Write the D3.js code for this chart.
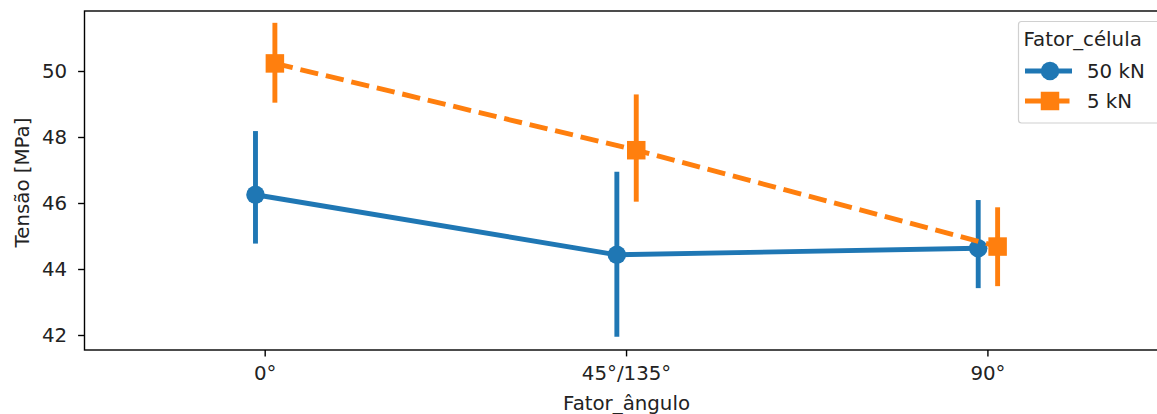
<!DOCTYPE html>
<html>
<head>
<meta charset="utf-8">
<script src="https://cdn.jsdelivr.net/npm/d3@7"></script>
<style>
  html, body { margin: 0; padding: 0; background: #fff; overflow: hidden; }
  svg { display: block; font-family: "DejaVu Sans", sans-serif; }
</style>
</head>
<body>
<svg id="chart" width="1157" height="414"></svg>
<script>
// Point estimates with confidence intervals per angle factor and load cell
const categories = ["0°", "45°/135°", "90°"];
const seriesNames = ["50 kN", "5 kN"];
const mean50kN = [46.25, 44.43, 44.63];
const low50kN  = [44.77, 41.95, 43.42];
const high50kN = [48.18, 46.95, 46.09];
const mean5kN  = [50.23, 47.60, 44.68];
const low5kN   = [49.04, 46.04, 43.48];
const high5kN  = [51.46, 49.29, 45.87];
const yTicks = [42, 44, 46, 48, 50];

const series = [
  { name: seriesNames[0], mean: mean50kN, low: low50kN, high: high50kN, color: "#1f77b4", marker: "circle", dash: null, offset: -9.7 },
  { name: seriesNames[1], mean: mean5kN,  low: low5kN,  high: high5kN,  color: "#ff7f0e", marker: "square", dash: "18.3,7.9", offset: 9.7 }
];

const fontSize = 19.8;
const lw = 4.9;
const markerSize = 18.5;

const plot = { left: 84.5, right: 1168.6, top: 11, bottom: 350 };

const svg = d3.select("#chart");

const x = d3.scaleBand().domain(categories).range([plot.left, plot.right]).padding(0);
const xc = c => x(c) + x.bandwidth() / 2;
const y = d3.scaleLinear().domain([42 - 15 / 33, 50 + 60 / 33]).range([plot.bottom, plot.top]);

// Axes
const xAxis = d3.axisBottom(x).tickSizeOuter(0).tickSize(6.4).tickPadding(9.5);
const yAxis = d3.axisLeft(y).tickValues(yTicks).tickSizeOuter(0).tickSize(6.4).tickPadding(11).tickFormat(d3.format("d"));

const gx = svg.append("g").attr("transform", `translate(0,${plot.bottom})`).call(xAxis);
const gy = svg.append("g").attr("transform", `translate(${plot.left},0)`).call(yAxis);
[gx, gy].forEach(g => {
  g.select(".domain").remove();
  g.selectAll(".tick line").attr("stroke", "#000").attr("stroke-width", 1.4);
  g.selectAll(".tick text").attr("fill", "#222").style("font-size", fontSize + "px").style("font-family", "DejaVu Sans");
});

// Frame
svg.append("rect")
  .attr("x", plot.left).attr("y", plot.top)
  .attr("width", plot.right - plot.left).attr("height", plot.bottom - plot.top)
  .attr("fill", "none").attr("stroke", "#000").attr("stroke-width", 1.4);

// Axis titles
svg.append("text")
  .attr("x", (plot.left + plot.right) / 2).attr("y", 410)
  .attr("text-anchor", "middle").attr("fill", "#222")
  .style("font-size", fontSize + "px")
  .text("Fator_ângulo");

svg.append("text")
  .attr("transform", `translate(29,${(plot.top + plot.bottom) / 2 + 2}) rotate(-90)`)
  .attr("text-anchor", "middle").attr("fill", "#222")
  .style("font-size", fontSize + "px")
  .text("Tensão [MPa]");

// Series: connecting line, error bars, markers
const marks = svg.append("g");
series.forEach(s => {
  const pts = categories.map((c, i) => ({ x: xc(c) + s.offset, m: s.mean[i], lo: s.low[i], hi: s.high[i] }));
  const g = marks.append("g");

  g.append("path")
    .datum(pts)
    .attr("d", d3.line().x(d => d.x).y(d => y(d.m)))
    .attr("fill", "none").attr("stroke", s.color).attr("stroke-width", lw)
    .attr("stroke-dasharray", s.dash);

  g.selectAll("line.err").data(pts).join("line")
    .attr("class", "err")
    .attr("x1", d => d.x).attr("x2", d => d.x)
    .attr("y1", d => y(d.lo)).attr("y2", d => y(d.hi))
    .attr("stroke", s.color).attr("stroke-width", lw);

  if (s.marker === "circle") {
    g.selectAll("circle").data(pts).join("circle")
      .attr("cx", d => d.x).attr("cy", d => y(d.m)).attr("r", markerSize / 2)
      .attr("fill", s.color);
  } else {
    g.selectAll("rect").data(pts).join("rect")
      .attr("x", d => d.x - markerSize / 2).attr("y", d => y(d.m) - markerSize / 2)
      .attr("width", markerSize).attr("height", markerSize)
      .attr("fill", s.color);
  }
});

// Legend
const leg = svg.append("g");
leg.append("rect")
  .attr("x", 1018.5).attr("y", 21.5).attr("width", 142).attr("height", 101.5)
  .attr("rx", 3).attr("fill", "#fff").attr("fill-opacity", 0.8)
  .attr("stroke", "#d0d0d0").attr("stroke-width", 1.2);
leg.append("text")
  .attr("x", 1023.5).attr("y", 45.5).attr("fill", "#222")
  .style("font-size", fontSize + "px").text("Fator_célula");

series.forEach((s, i) => {
  const cy = 71 + i * 30;
  const row = leg.append("g");
  row.append("line")
    .attr("x1", 1025).attr("x2", 1072).attr("y1", cy).attr("y2", cy)
    .attr("stroke", s.color).attr("stroke-width", lw)
    .attr("stroke-dasharray", s.dash);
  if (s.marker === "circle") {
    row.append("circle").attr("cx", 1050).attr("cy", cy).attr("r", markerSize / 2).attr("fill", s.color);
  } else {
    row.append("rect").attr("x", 1050 - markerSize / 2).attr("y", cy - markerSize / 2)
      .attr("width", markerSize).attr("height", markerSize).attr("fill", s.color);
  }
  row.append("text")
    .attr("x", 1087).attr("y", cy + 6.6).attr("fill", "#222")
    .style("font-size", fontSize + "px").text(s.name);
});
</script>
</body>
</html>
